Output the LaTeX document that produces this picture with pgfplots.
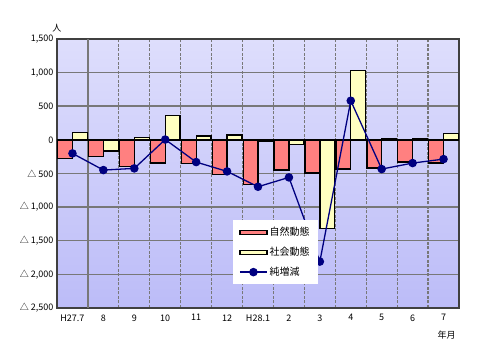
\documentclass[border=0pt]{standalone}
\usepackage{fontspec}
\setmainfont{Noto Sans CJK JP}
\usepackage{pgfplots}
\pgfplotsset{compat=1.18}
\definecolor{redbar}{RGB}{255,128,128}
\definecolor{yelbar}{RGB}{255,255,192}
\definecolor{navyl}{RGB}{0,0,128}
\definecolor{bgtop}{RGB}{222,222,252}
\definecolor{bgbot}{RGB}{188,188,248}
\definecolor{gridg}{RGB}{120,120,120}
\begin{document}
\begin{tikzpicture}
\begin{axis}[
  scale only axis, width=402pt, height=269pt,
  xmin=-0.5, xmax=12.5, ymin=-2500, ymax=1500,
  clip=false,
  axis background/.style={top color=bgtop, bottom color=bgbot},
  axis line style={draw=black!75, line width=1.6pt},
  xtick={0,...,12},
  xticklabels={H27.7,8,9,10,11,12,H28.1,2,3,4,5,6,7},
  ytick={-2500,-2000,-1500,-1000,-500,0,500,1000,1500},
  yticklabels={{△ 2,500},{△ 2,000},{△ 1,500},{△ 1,000},{△ 500},{0},{500},{1,000},{1,500}},
  tick label style={font=\fontsize{9}{10}\selectfont},
  major tick length=0pt, minor tick length=0pt,
  ymajorgrids=true,
  major grid style={draw=gridg, line width=1.5pt},
  minor xtick={1.5,2.5,...,11.5},
  xminorgrids=true,
  minor x grid style={gridg, line width=1.2pt, dash pattern=on 3pt off 1.5pt},
  xticklabel style={yshift=-3pt},
  legend style={at={(rel axis cs:0.438,0.327)}, anchor=north west, draw=none, fill=white,
    font=\fontsize{10}{12}\selectfont, inner xsep=6pt, inner ysep=5pt, row sep=6pt,
    cells={anchor=west}},
  legend cell align=left,
]
\addplot[gridg, line width=1.4pt, forget plot] coordinates {(0.5,-2500) (0.5,1500)};
\addplot[ybar, bar width=0.48, bar shift=-0.24, fill=redbar, draw=black, line width=1.3pt,
  legend image code/.code={\draw[fill=redbar,draw=black,line width=1.2pt] (0pt,-2pt) rectangle (27pt,2pt);}]
  coordinates {(0,-281) (1,-251) (2,-400) (3,-345) (4,-356) (5,-519) (6,-662) (7,-449) (8,-494) (9,-434) (10,-420) (11,-330) (12,-345)};
\addlegendentry{自然動態}
\addplot[ybar, bar width=0.48, bar shift=0.24, fill=yelbar, draw=black, line width=1.3pt,
  legend image code/.code={\draw[fill=yelbar,draw=black,line width=1.2pt] (0pt,-2pt) rectangle (27pt,2pt);}]
  coordinates {(0,106) (1,-167) (2,31) (3,359) (4,57) (5,71) (6,-18) (7,-73) (8,-1316) (9,1028) (10,22) (11,22) (12,91)};
\addlegendentry{社会動態}
\addplot[navyl, line width=1.3pt, mark=*, mark size=3.6pt, mark options={fill=navyl, draw=navyl},
  legend image code/.code={\draw[navyl,line width=1.3pt] (0pt,0pt) -- (27pt,0pt); \fill[navyl] (13.5pt,0pt) circle (3.6pt);}]
  coordinates {(0,-201) (1,-449) (2,-424) (3,5) (4,-330) (5,-469) (6,-697) (7,-558) (8,-1810) (9,582) (10,-434) (11,-345) (12,-286)};
\addlegendentry{純増減}
\node[font=\fontsize{9}{10}\selectfont] at (rel axis cs:0,1.041) {人};
\node[font=\fontsize{9}{10}\selectfont] at (rel axis cs:0.969,-0.1) {年月};
\end{axis}
\pgfresetboundingbox
\path[use as bounding box] ([xshift=-57pt,yshift=-55pt]current axis.south west) rectangle ([xshift=24pt,yshift=39pt]current axis.north east);
\end{tikzpicture}
\end{document}
